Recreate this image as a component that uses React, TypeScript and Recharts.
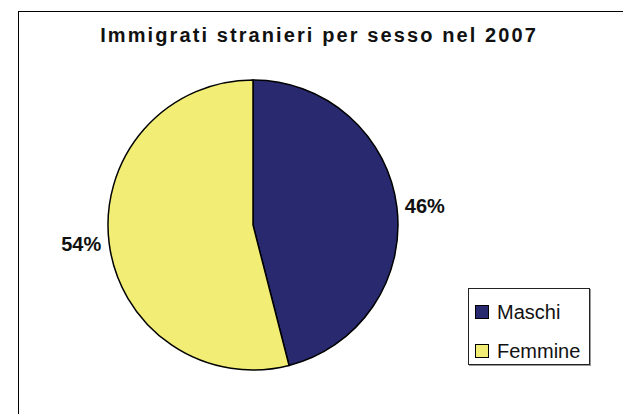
import { PieChart, Pie, Cell, Legend } from 'recharts';

const categories = ['Maschi', 'Femmine'];
const values = [46, 54];
const colors = ['#29296F', '#F2EE75'];

const chartData = categories.map((name, i) => ({ name, value: values[i] }));

const RADIAN = Math.PI / 180;

function renderLabel(props: any) {
  const { cx, cy, midAngle, outerRadius, percent } = props;
  const r = outerRadius + 8;
  const x = cx + r * Math.cos(-midAngle * RADIAN);
  const y = cy + r * Math.sin(-midAngle * RADIAN);
  return (
    <text
      x={x}
      y={y}
      textAnchor={x > cx ? 'start' : 'end'}
      dominantBaseline="central"
      fontFamily="'Liberation Sans', Arial, sans-serif"
      fontWeight="bold"
      fontSize={20}
      fill="#111"
    >
      {`${Math.round(percent * 100)}%`}
    </text>
  );
}

function LegendBox({ payload }: any) {
  // keep the legend in the data order (Maschi first)
  const items = [...(payload || [])].sort(
    (a: any, b: any) => categories.indexOf(a.value) - categories.indexOf(b.value)
  );
  return (
    <div
      style={{
        width: 122,
        height: 77,
        border: '1px solid #222',
        boxShadow: '1px 1px 0 #999',
        background: '#fff',
        boxSizing: 'border-box',
        paddingTop: 8,
        paddingLeft: 6,
      }}
    >
      {items.map((entry: any) => (
        <div
          key={entry.value}
          style={{ display: 'flex', alignItems: 'center', height: 30, marginBottom: 9 }}
        >
          <span
            style={{
              display: 'inline-block',
              width: 14,
              height: 14,
              background: entry.color,
              border: '1.5px solid #000',
              boxSizing: 'border-box',
              marginRight: 8,
            }}
          />
          <span
            style={{
              fontFamily: "'Liberation Sans', Arial, sans-serif",
              fontSize: 20,
              color: '#111',
            }}
          >
            {entry.value}
          </span>
        </div>
      ))}
    </div>
  );
}

export default function App() {
  return (
    <div style={{ position: 'absolute', left: 0, top: 0, width: 623, height: 414, background: '#fff', overflow: 'hidden' }}>
      <div
        style={{
          position: 'absolute',
          left: 18,
          top: 11,
          width: 700,
          height: 500,
          borderLeft: '1.5px solid #000',
          borderTop: '1.5px solid #000',
        }}
      />
      <div
        style={{
          position: 'absolute',
          left: 0,
          width: 638,
          top: 24,
          textAlign: 'center',
          fontFamily: "'Liberation Sans', Arial, sans-serif",
          fontWeight: 'bold',
          fontSize: 20,
          letterSpacing: 2.1,
          color: '#111',
        }}
      >
        Immigrati stranieri per sesso nel 2007
      </div>
      <div style={{ position: 'absolute', left: 0, top: 0 }}>
        <PieChart width={623} height={414} margin={{ top: 0, right: 0, bottom: 0, left: 0 }}>
          <Pie
            data={chartData}
            dataKey="value"
            nameKey="name"
            cx={253}
            cy={225}
            outerRadius={145}
            startAngle={90}
            endAngle={-270}
            stroke="#000"
            strokeWidth={1.5}
            label={renderLabel}
            labelLine={false}
            isAnimationActive={false}
          >
            {chartData.map((d, i) => (
              <Cell key={d.name} fill={colors[i]} />
            ))}
          </Pie>
          <Legend
            content={<LegendBox />}
            wrapperStyle={{ position: 'absolute', left: 468, top: 288, width: 122, height: 77 }}
          />
        </PieChart>
      </div>
    </div>
  );
}
